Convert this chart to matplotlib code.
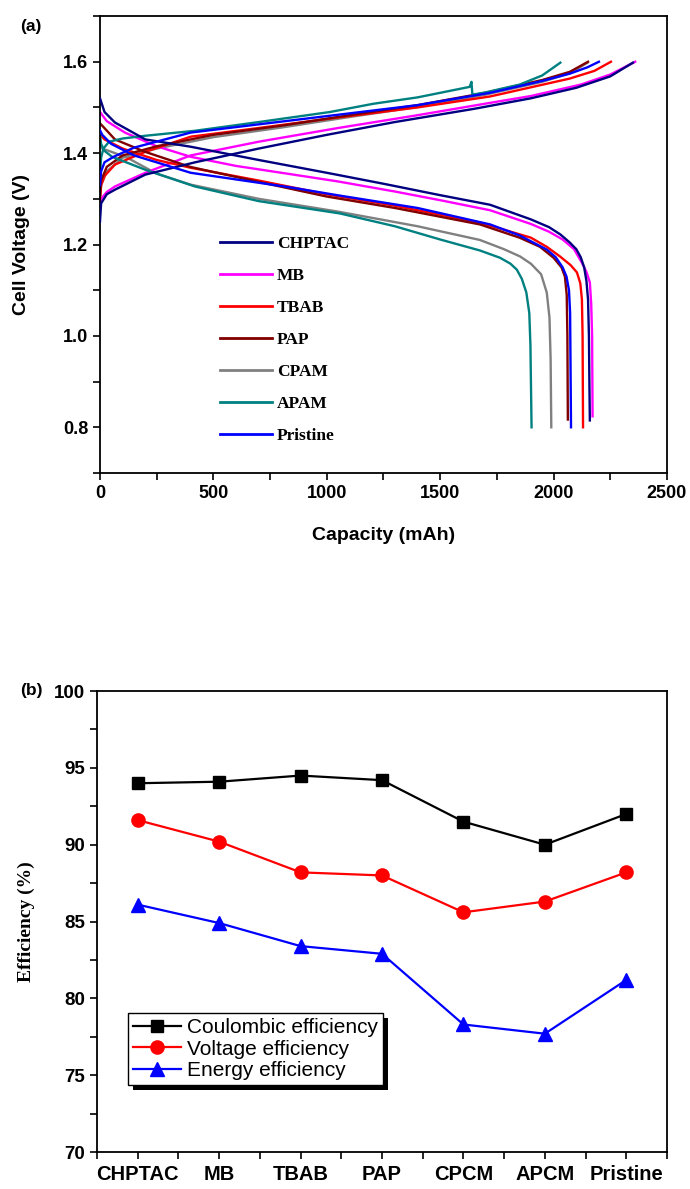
"""
Cell voltage curves and efficiencies for electrolyte additives
"""

import matplotlib
matplotlib.use("Agg")
import matplotlib.pyplot as plt
from matplotlib.patches import Rectangle
from matplotlib.ticker import MultipleLocator

SANS = "Liberation Sans"
SERIF = "Liberation Serif"

# (a) charge / discharge curves, capacity in mAh, voltage in V
chptac_chg_cap = [0, 5, 30, 66, 200, 420, 700, 1000, 1300, 1650, 1900, 2100, 2250, 2350]
chptac_chg_v = [1.25, 1.29, 1.31, 1.32, 1.353, 1.38, 1.41, 1.44, 1.468, 1.497, 1.52, 1.543, 1.568, 1.598]
chptac_dis_cap = [0, 20, 66, 200, 400, 700, 1000, 1250, 1500, 1720, 1900, 1980, 2030, 2070, 2100,
                  2120, 2135, 2145, 2152, 2156, 2158, 2160]
chptac_dis_v = [1.52, 1.49, 1.467, 1.43, 1.414, 1.385, 1.357, 1.333, 1.308, 1.287, 1.255, 1.238, 1.222,
                1.205, 1.19, 1.172, 1.15, 1.12, 1.08, 1.0, 0.9, 0.815]

mb_chg_cap = [0, 5, 30, 66, 200, 400, 700, 1050, 1400, 1720, 1900, 2120, 2250, 2360]
mb_chg_v = [1.28, 1.30, 1.315, 1.327, 1.357, 1.395, 1.425, 1.455, 1.483, 1.51, 1.525, 1.55, 1.572, 1.6]
mb_dis_cap = [0, 30, 110, 250, 400, 600, 800, 1050, 1300, 1500, 1720, 1900, 1980, 2040, 2090, 2125,
              2145, 2160, 2166, 2170, 2172]
mb_dis_v = [1.49, 1.47, 1.445, 1.415, 1.392, 1.372, 1.357, 1.338, 1.316, 1.297, 1.275, 1.245, 1.228,
            1.211, 1.19, 1.16, 1.14, 1.117, 1.07, 1.0, 0.824]

tbab_chg_cap = [0, 5, 20, 66, 200, 400, 700, 1050, 1400, 1720, 2070, 2180, 2253]
tbab_chg_v = [1.30, 1.33, 1.35, 1.375, 1.403, 1.436, 1.455, 1.478, 1.50, 1.524, 1.563, 1.58, 1.6]
tbab_dis_cap = [0, 20, 100, 250, 400, 700, 1000, 1300, 1675, 1900, 1970, 2028, 2075, 2103, 2118,
                2125, 2128, 2130]
tbab_dis_v = [1.44, 1.43, 1.41, 1.385, 1.368, 1.34, 1.31, 1.285, 1.248, 1.215, 1.195, 1.174, 1.155,
              1.139, 1.115, 1.08, 1.0, 0.80]

pap_chg_cap = [0, 5, 30, 100, 250, 500, 800, 1100, 1400, 1700, 1950, 2072, 2152]
pap_chg_v = [1.31, 1.34, 1.37, 1.395, 1.415, 1.44, 1.46, 1.483, 1.505, 1.532, 1.56, 1.578, 1.6]
pap_dis_cap = [0, 10, 66, 198, 397, 700, 1000, 1300, 1675, 1850, 1940, 2000, 2035, 2050, 2058,
               2061, 2063]
pap_dis_v = [1.465, 1.46, 1.43, 1.403, 1.37, 1.337, 1.305, 1.28, 1.244, 1.215, 1.195, 1.171, 1.15,
             1.13, 1.09, 1.0, 0.817]

cpam_chg_cap = [0, 5, 30, 100, 250, 500, 800, 1100, 1400, 1700, 1950, 2072, 2150]
cpam_chg_v = [1.29, 1.33, 1.36, 1.39, 1.41, 1.435, 1.456, 1.479, 1.501, 1.528, 1.556, 1.575, 1.598]
cpam_dis_cap = [0, 10, 50, 120, 250, 400, 700, 1050, 1400, 1675, 1780, 1852, 1900, 1945, 1970,
                1982, 1987, 1990]
cpam_dis_v = [1.42, 1.41, 1.403, 1.39, 1.355, 1.331, 1.30, 1.272, 1.24, 1.21, 1.19, 1.174, 1.158,
              1.135, 1.095, 1.04, 0.95, 0.80]

apam_chg_cap = [0, 5, 15, 40, 100, 200, 420, 700, 1014, 1205, 1400, 1630, 1638, 1642, 1700, 1850,
                1950, 2030]
apam_chg_v = [1.35, 1.39, 1.41, 1.425, 1.432, 1.438, 1.449, 1.468, 1.49, 1.508, 1.522, 1.545, 1.556,
              1.528, 1.533, 1.55, 1.57, 1.598]
apam_dis_cap = [0, 5, 20, 53, 198, 419, 700, 1058, 1300, 1500, 1675, 1764, 1810, 1838, 1860, 1880,
                1893, 1898, 1903]
apam_dis_v = [1.44, 1.42, 1.405, 1.392, 1.364, 1.327, 1.295, 1.268, 1.24, 1.211, 1.187, 1.171, 1.158,
              1.145, 1.125, 1.095, 1.05, 0.98, 0.80]

pristine_chg_cap = [0, 5, 20, 60, 150, 400, 700, 1050, 1400, 1720, 1950, 2072, 2150, 2200]
pristine_chg_v = [1.33, 1.36, 1.38, 1.392, 1.412, 1.445, 1.463, 1.484, 1.505, 1.532, 1.558, 1.574,
                  1.588, 1.6]
pristine_dis_cap = [0, 10, 50, 150, 400, 840, 1058, 1400, 1720, 1850, 1970, 2010, 2040, 2057, 2068,
                    2073, 2077]
pristine_dis_v = [1.45, 1.44, 1.42, 1.395, 1.357, 1.325, 1.307, 1.28, 1.244, 1.22, 1.189, 1.172,
                  1.15, 1.13, 1.1, 1.05, 0.80]

# (b) efficiencies in %
samples = ["CHPTAC", "MB", "TBAB", "PAP", "CPCM", "APCM", "Pristine"]
coulombic_eff = [94.0, 94.1, 94.5, 94.2, 91.5, 90.0, 92.0]
voltage_eff = [91.6, 90.2, 88.2, 88.0, 85.6, 86.3, 88.2]
energy_eff = [86.1, 84.9, 83.4, 82.9, 78.3, 77.7, 81.2]


def style_axes(ax):
    for side in ax.spines.values():
        side.set_linewidth(1.3)
    ax.tick_params(which="both", direction="out", length=5, width=1.2,
                   top=False, right=False)
    for lbl in ax.get_xticklabels() + ax.get_yticklabels():
        lbl.set_fontfamily(SANS)
        lbl.set_fontweight("bold")


fig = plt.figure(figsize=(6.9, 11.89), dpi=100)

# ---------------- (a) ----------------
ax1 = fig.add_axes([0.1449, 0.6022, 0.8217, 0.3843])

curves = [
    ("CHPTAC", "#000080", chptac_chg_cap, chptac_chg_v, chptac_dis_cap, chptac_dis_v, 3),
    ("MB", "#ff00ff", mb_chg_cap, mb_chg_v, mb_dis_cap, mb_dis_v, 2),
    ("TBAB", "#ff0000", tbab_chg_cap, tbab_chg_v, tbab_dis_cap, tbab_dis_v, 2),
    ("PAP", "#800000", pap_chg_cap, pap_chg_v, pap_dis_cap, pap_dis_v, 2),
    ("CPAM", "#808080", cpam_chg_cap, cpam_chg_v, cpam_dis_cap, cpam_dis_v, 1),
    ("APAM", "#008080", apam_chg_cap, apam_chg_v, apam_dis_cap, apam_dis_v, 2),
    ("Pristine", "#0000ff", pristine_chg_cap, pristine_chg_v, pristine_dis_cap, pristine_dis_v, 3),
]

for name, color, cc, cv, dc, dv, z in curves:
    ax1.plot(cc, cv, color=color, lw=1.7, zorder=z)
    ax1.plot(dc, dv, color=color, lw=1.7, zorder=z, label=name)

ax1.set_xlim(0, 2500)
ax1.set_ylim(0.7, 1.7)
ax1.xaxis.set_major_locator(MultipleLocator(500))
ax1.xaxis.set_minor_locator(MultipleLocator(250))
ax1.yaxis.set_major_locator(MultipleLocator(0.2))
ax1.yaxis.set_minor_locator(MultipleLocator(0.1))
ax1.set_yticks([0.8, 1.0, 1.2, 1.4, 1.6])
ax1.tick_params(labelsize=13)
style_axes(ax1)
ax1.set_xlabel("Capacity (mAh)", fontfamily=SANS, fontweight="bold",
               fontsize=14, labelpad=18)
ax1.set_ylabel("Cell Voltage (V)", fontfamily=SANS, fontweight="bold",
               fontsize=14, labelpad=24)

leg1 = ax1.legend(loc="upper left", bbox_to_anchor=(0.2, 0.535),
                  borderaxespad=0, frameon=True, fancybox=False,
                  edgecolor="none", facecolor="white", framealpha=1,
                  handlelength=3.0, handletextpad=0.25, labelspacing=0.92,
                  prop={"family": SERIF, "weight": "bold", "size": 12.5})
for line in leg1.get_lines():
    line.set_linewidth(2.0)
leg1.set_zorder(10)

fig.text(0.029, 0.978, "(a)", fontfamily=SANS, fontweight="bold",
         fontsize=12.5, va="center")

# ---------------- (b) ----------------
ax2 = fig.add_axes([0.1406, 0.0311, 0.8261, 0.3877])
xpos = list(range(1, len(samples) + 1))

ax2.plot(xpos, coulombic_eff, color="black", marker="s", ms=9, lw=1.6,
         label="Coulombic efficiency")
ax2.plot(xpos, voltage_eff, color="#ff0000", marker="o", ms=9.5, lw=1.6,
         label="Voltage efficiency")
ax2.plot(xpos, energy_eff, color="#0000ff", marker="^", ms=10, lw=1.6,
         label="Energy efficiency")

ax2.set_xlim(0.5, 7.5)
ax2.set_ylim(70, 100)
ax2.set_xticks(xpos)
ax2.set_xticklabels(samples)
ax2.set_xticks([p + 0.5 for p in [0] + xpos], minor=True)
ax2.yaxis.set_major_locator(MultipleLocator(5))
ax2.yaxis.set_minor_locator(MultipleLocator(2.5))
ax2.tick_params(axis="y", labelsize=13.5)
ax2.tick_params(axis="x", labelsize=14.5, pad=4)
style_axes(ax2)
ax2.set_ylabel("Efficiency (%)", fontfamily=SERIF, fontweight="bold",
               fontsize=14, labelpad=14)

leg2 = ax2.legend(loc="upper left", bbox_to_anchor=(0.054, 0.302),
                  borderaxespad=0, fancybox=False, edgecolor="black",
                  framealpha=1, handlelength=2.3, handletextpad=0.3,
                  labelspacing=0.12, borderpad=0.25,
                  prop={"family": SANS, "size": 15})
leg2.get_frame().set_linewidth(1.0)
leg2.set_zorder(6)

# offset black shadow behind the legend box
fig.canvas.draw()
bb = leg2.get_window_extent().transformed(ax2.transAxes.inverted())
dx = 5 / ax2.bbox.width
dy = 5 / ax2.bbox.height
ax2.add_patch(Rectangle((bb.x0 + dx, bb.y0 - dy), bb.width, bb.height,
                        transform=ax2.transAxes, facecolor="black",
                        edgecolor="none", zorder=5))

fig.text(0.029, 0.419, "(b)", fontfamily=SANS, fontweight="bold",
         fontsize=12.5, va="center")

plt.savefig("out.png", dpi=100)
plt.close()
